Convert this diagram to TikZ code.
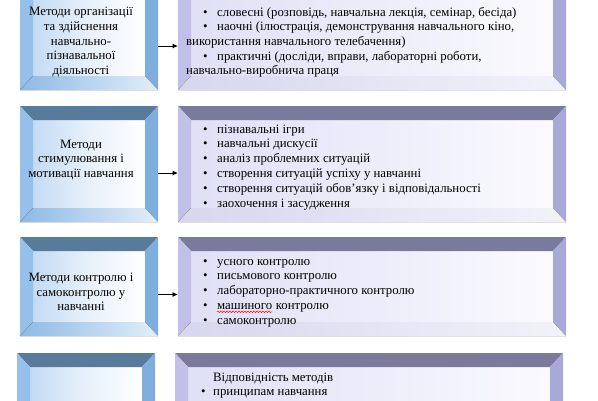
\documentclass[tikz,border=0pt]{standalone}
\usepackage{fontspec}
\setmainfont{Liberation Serif}
\usetikzlibrary{arrows.meta,decorations.pathmorphing}
\definecolor{Ltop}{HTML}{587B9C}
\definecolor{Lleft}{HTML}{96C0EA}
\definecolor{Lright}{HTML}{7FADDC}
\definecolor{Lbotl}{HTML}{8EB9E4}
\definecolor{Lbotr}{HTML}{E2EEF9}
\definecolor{Lfront}{HTML}{C4DBF4}
\definecolor{Rtop}{HTML}{797A9C}
\definecolor{Rleft}{HTML}{C0C0E8}
\definecolor{Rright}{HTML}{A9A9D9}
\definecolor{Rbotl}{HTML}{D6D6EE}
\definecolor{Rbotr}{HTML}{F2F2FA}
\definecolor{Rfront}{HTML}{E0E0F6}
\newcommand\bevbox[2]{%
 \fill[#2top] (#1.north west) -- (#1.north east) -- ([xshift=-13pt,yshift=-14pt]#1.north east) -- ([xshift=13pt,yshift=-14pt]#1.north west) -- cycle;
 \fill[#2left] (#1.north west) -- ([xshift=13pt,yshift=-14pt]#1.north west) -- ([xshift=13pt,yshift=14pt]#1.south west) -- (#1.south west) -- cycle;
 \fill[#2right] (#1.north east) -- ([xshift=-13pt,yshift=-14pt]#1.north east) -- ([xshift=-13pt,yshift=14pt]#1.south east) -- (#1.south east) -- cycle;
 \fill[left color=#2botl, right color=#2botr] (#1.south west) -- ([xshift=13pt,yshift=14pt]#1.south west) -- ([xshift=-13pt,yshift=14pt]#1.south east) -- (#1.south east) -- cycle;
}
\tikzset{
 front/.style={inner sep=0pt, outer xsep=13pt, outer ysep=14pt, minimum width=#1},
 lfront/.style={front=112pt, left color=Lfront, right color=white, middle color=Lfront!40},
 rfront/.style={front=362pt, left color=Rfront, right color=white!85!Rfront, middle color=Rfront!60},
 fnt/.style={font=\fontsize{12.8}{14.7}\selectfont},
 ltxt/.style={fnt, inner sep=0pt, align=center},
 itm/.style={fnt, inner sep=0pt, anchor=base west},
 arr/.style={line width=0.8pt, -{Latex[length=5.5pt,width=5pt]}},
 squig/.style={red, line width=0.5pt, decorate, decoration={snake, segment length=3pt, amplitude=0.8pt}}
}
\begin{document}
\begin{tikzpicture}[x=1pt,y=-1pt]
\clip (0,0) rectangle (598,400);
\fill[white] (0,0) rectangle (598,400);
% fronts
\node[lfront, minimum height=84pt] (L1) at (89,34) {};
\node[rfront, minimum height=84pt] (R1) at (372,34) {};
\node[lfront, minimum height=88pt] (L2) at (89,164) {};
\node[rfront, minimum height=88pt] (R2) at (372,164) {};
\node[lfront, minimum height=71pt] (L3) at (89,286.5) {};
\node[rfront, minimum height=71pt] (R3) at (372,286.5) {};
\node[lfront, minimum height=90pt] (L4) at (86,412) {};
\node[rfront, minimum height=90pt] (R4) at (369,412) {};
\bevbox{L1}{L}\bevbox{R1}{R}
\bevbox{L2}{L}\bevbox{R2}{R}
\bevbox{L3}{L}\bevbox{R3}{R}
\bevbox{L4}{L}\bevbox{R4}{R}
% arrows
\draw[arr] ([yshift=-12pt]L1.east) -- ([yshift=-12pt]R1.west);
\draw[arr] ([yshift=-9pt]L2.east) -- ([yshift=-9pt]R2.west);
\draw[arr] ([yshift=-8pt]L3.east) -- ([yshift=-8pt]R3.west);
% left texts
\node[ltxt] (t1) at (81,42) {Методи організації\\та здійснення\\навчально-\\пізнавальної\\діяльності};
\node[ltxt] (t2) at (81,160) {Методи\\стимулювання і\\мотивації навчання};
\node[ltxt] (t3) at (81,292) {Методи контролю і\\самоконтролю у\\навчанні};
% box 1 right
\node[itm] (a1b) at (203,16) {•};
\node[itm] (a1) at (217,16) {словесні (розповідь, навчальна лекція, семінар, бесіда)};
\node[itm] (a2b) at (203,30.5) {•};
\node[itm] (a2) at (217,30.5) {наочні (ілюстрація, демонстрування навчального кіно,};
\node[itm] (a3) at (186,45) {використання навчального телебачення)};
\node[itm] (a4b) at (203,60) {•};
\node[itm] (a4) at (217,60) {практичні (досліди, вправи, лабораторні роботи,};
\node[itm] (a5) at (186,74.5) {навчально-виробнича праця};
% box 2 right
\foreach \t [count=\i from 0] in {пізнавальні ігри, навчальні дискусії, аналіз проблемних ситуацій, створення ситуацій успіху у навчанні, створення ситуацій обов’язку і відповідальності, заохочення і засудження}{
 \node[itm] (b\i b) at (203,133+14.8*\i) {•};
 \node[itm] (b\i) at (217,133+14.8*\i) {\t};
}
% box 3 right
\foreach \t [count=\i from 0] in {усного контролю, письмового контролю, лабораторно-практичного контролю}{
 \node[itm] (c\i b) at (203,265+14.8*\i) {•};
 \node[itm] (c\i) at (217,265+14.8*\i) {\t};
}
\node[itm] (c3b) at (203,309.4) {•};
\node[itm] (c3) at (217,309.4) {машиного};
\node[itm, xshift=3.2pt] (c3x) at (c3.base east) {контролю};
\draw[squig] ([yshift=-2.4pt]c3.base west) -- ([yshift=-2.4pt]c3.base east);
\node[itm] (c4b) at (203,324.2) {•};
\node[itm] (c4) at (217,324.2) {самоконтролю};
% box 4 right
\node[itm] (d1) at (213,381) {Відповідність методів};
\node[itm] (d2b) at (201,395.5) {•};
\node[itm] (d2) at (213,395.5) {принципам навчання};
\end{tikzpicture}
\end{document}
